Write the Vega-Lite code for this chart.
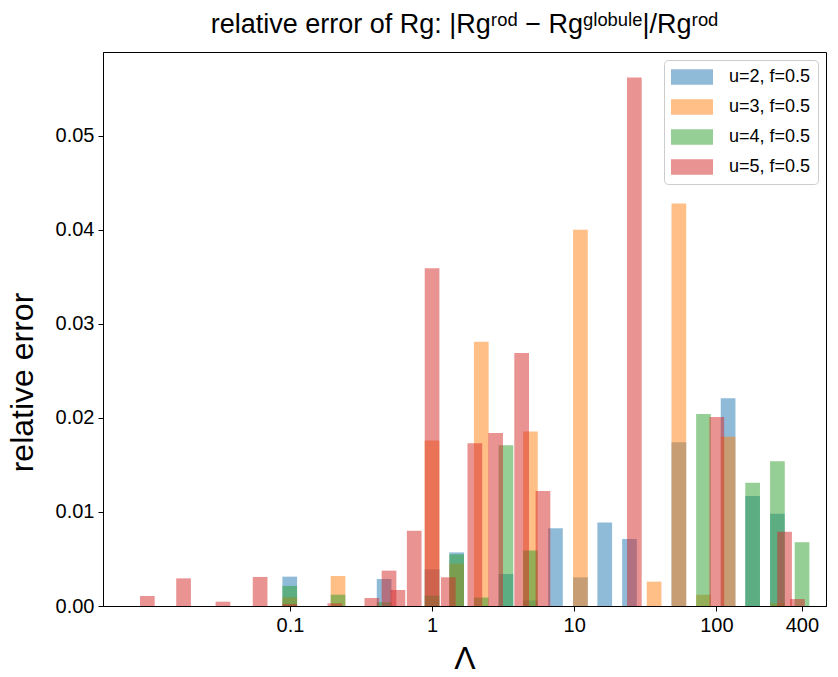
{
  "$schema": "https://vega.github.io/schema/vega-lite/v6.json",
  "width": 723,
  "height": 554,
  "autosize": "none",
  "padding": {"left": 103, "top": 52, "right": 12, "bottom": 71},
  "background": "white",
  "config": {
    "font": "Liberation Sans",
    "view": {"stroke": "black", "strokeWidth": 1}
  },
  "title": {
    "text": "relative error of Rg: |Rgʳᵒᵈ − Rgᵍˡᵒᵇᵘˡᵉ|/Rgʳᵒᵈ",
    "font": "Liberation Sans",
    "fontSize": 27,
    "fontWeight": "normal",
    "anchor": "middle",
    "frame": "group",
    "offset": 13,
    "color": "black"
  },
  "data": {
    "values": [
      {"s": "u=2, f=0.5", "lam": 0.0997, "err": 0.00312},
      {"s": "u=2, f=0.5", "lam": 0.46, "err": 0.00287},
      {"s": "u=2, f=0.5", "lam": 1.0, "err": 0.0039},
      {"s": "u=2, f=0.5", "lam": 1.49, "err": 0.0057},
      {"s": "u=2, f=0.5", "lam": 3.31, "err": 0.0034},
      {"s": "u=2, f=0.5", "lam": 4.92, "err": 0.0006},
      {"s": "u=2, f=0.5", "lam": 7.38, "err": 0.00826},
      {"s": "u=2, f=0.5", "lam": 11.06, "err": 0.00305},
      {"s": "u=2, f=0.5", "lam": 16.4, "err": 0.00887},
      {"s": "u=2, f=0.5", "lam": 24.5, "err": 0.00713},
      {"s": "u=2, f=0.5", "lam": 54.5, "err": 0.0174},
      {"s": "u=2, f=0.5", "lam": 121, "err": 0.0221},
      {"s": "u=2, f=0.5", "lam": 180, "err": 0.0117},
      {"s": "u=2, f=0.5", "lam": 269, "err": 0.0098},
      {"s": "u=3, f=0.5", "lam": 0.0997, "err": 0.00092},
      {"s": "u=3, f=0.5", "lam": 0.218, "err": 0.00319},
      {"s": "u=3, f=0.5", "lam": 1.0, "err": 0.0176},
      {"s": "u=3, f=0.5", "lam": 1.49, "err": 0.0045},
      {"s": "u=3, f=0.5", "lam": 2.22, "err": 0.0281},
      {"s": "u=3, f=0.5", "lam": 4.92, "err": 0.01855},
      {"s": "u=3, f=0.5", "lam": 11.06, "err": 0.04},
      {"s": "u=3, f=0.5", "lam": 36.5, "err": 0.00259},
      {"s": "u=3, f=0.5", "lam": 54.5, "err": 0.0428},
      {"s": "u=3, f=0.5", "lam": 81.2, "err": 0.0012},
      {"s": "u=3, f=0.5", "lam": 121, "err": 0.018},
      {"s": "u=3, f=0.5", "lam": 269, "err": 0.0003},
      {"s": "u=4, f=0.5", "lam": 0.0997, "err": 0.00213},
      {"s": "u=4, f=0.5", "lam": 0.218, "err": 0.0012},
      {"s": "u=4, f=0.5", "lam": 0.46, "err": 0.0004},
      {"s": "u=4, f=0.5", "lam": 1.0, "err": 0.0011},
      {"s": "u=4, f=0.5", "lam": 1.49, "err": 0.0055},
      {"s": "u=4, f=0.5", "lam": 2.22, "err": 0.0009},
      {"s": "u=4, f=0.5", "lam": 3.31, "err": 0.0171},
      {"s": "u=4, f=0.5", "lam": 4.92, "err": 0.0059},
      {"s": "u=4, f=0.5", "lam": 81.2, "err": 0.0204},
      {"s": "u=4, f=0.5", "lam": 180, "err": 0.0131},
      {"s": "u=4, f=0.5", "lam": 269, "err": 0.01539},
      {"s": "u=4, f=0.5", "lam": 401, "err": 0.00678},
      {"s": "u=5, f=0.5", "lam": 0.00993, "err": 0.00106},
      {"s": "u=5, f=0.5", "lam": 0.01786, "err": 0.00294},
      {"s": "u=5, f=0.5", "lam": 0.0338, "err": 0.00046},
      {"s": "u=5, f=0.5", "lam": 0.0617, "err": 0.00309},
      {"s": "u=5, f=0.5", "lam": 0.0997, "err": 0.0002},
      {"s": "u=5, f=0.5", "lam": 0.207, "err": 0.00028},
      {"s": "u=5, f=0.5", "lam": 0.377, "err": 0.00085},
      {"s": "u=5, f=0.5", "lam": 0.498, "err": 0.00376},
      {"s": "u=5, f=0.5", "lam": 0.575, "err": 0.0017},
      {"s": "u=5, f=0.5", "lam": 0.749, "err": 0.008},
      {"s": "u=5, f=0.5", "lam": 1.0, "err": 0.0359},
      {"s": "u=5, f=0.5", "lam": 1.3, "err": 0.00305},
      {"s": "u=5, f=0.5", "lam": 2.0, "err": 0.0173},
      {"s": "u=5, f=0.5", "lam": 2.8, "err": 0.0184},
      {"s": "u=5, f=0.5", "lam": 4.27, "err": 0.0269},
      {"s": "u=5, f=0.5", "lam": 6.03, "err": 0.01223},
      {"s": "u=5, f=0.5", "lam": 26.5, "err": 0.0562},
      {"s": "u=5, f=0.5", "lam": 100.8, "err": 0.0201},
      {"s": "u=5, f=0.5", "lam": 302, "err": 0.0079},
      {"s": "u=5, f=0.5", "lam": 372, "err": 0.00074}
    ]
  },
  "mark": {"type": "bar", "size": 14.7, "opacity": 0.5},
  "encoding": {
    "x": {
      "field": "lam",
      "type": "quantitative",
      "scale": {"type": "log", "domain": [0.00525, 545], "nice": false},
      "axis": {
        "values": [0.1, 1, 10, 100, 400],
        "labelExpr": "datum.value < 1 ? '0.1' : format(datum.value, 'd')",
        "title": "Λ",
        "titleFontSize": 32,
        "titleFontWeight": "normal",
        "titleColor": "black",
        "titlePadding": 8,
        "labelFontSize": 20,
        "labelColor": "black",
        "labelPadding": 4,
        "tickColor": "black",
        "tickSize": 5,
        "domainColor": "black",
        "grid": false,
        "labelFlush": false
      }
    },
    "y": {
      "field": "err",
      "type": "quantitative",
      "stack": null,
      "scale": {"domain": [0, 0.0589], "nice": false, "zero": true},
      "axis": {
        "values": [0, 0.01, 0.02, 0.03, 0.04, 0.05],
        "format": ".2f",
        "title": "relative error",
        "titleFontSize": 32,
        "titleFontWeight": "normal",
        "titleColor": "black",
        "titlePadding": 16,
        "titleY": 330,
        "labelFontSize": 20,
        "labelColor": "black",
        "labelPadding": 4,
        "tickColor": "black",
        "tickSize": 5,
        "domainColor": "black",
        "grid": false,
        "labelFlush": false
      }
    },
    "color": {
      "field": "s",
      "type": "nominal",
      "scale": {
        "domain": ["u=2, f=0.5", "u=3, f=0.5", "u=4, f=0.5", "u=5, f=0.5"],
        "range": ["#1f77b4", "#ff7f0e", "#2ca02c", "#d62728"]
      },
      "legend": {
        "title": null,
        "orient": "top-right",
        "offset": 8,
        "symbolType": "M-1,-0.37H1V0.37H-1Z",
        "symbolSize": 1764,
        "symbolOpacity": 0.5,
        "symbolStrokeWidth": 0,
        "clipHeight": 20,
        "labelFontSize": 18,
        "labelColor": "black",
        "labelOffset": 16,
        "rowPadding": 10,
        "padding": 7,
        "strokeColor": "#cccccc",
        "fillColor": "white",
        "cornerRadius": 4
      }
    }
  }
}
